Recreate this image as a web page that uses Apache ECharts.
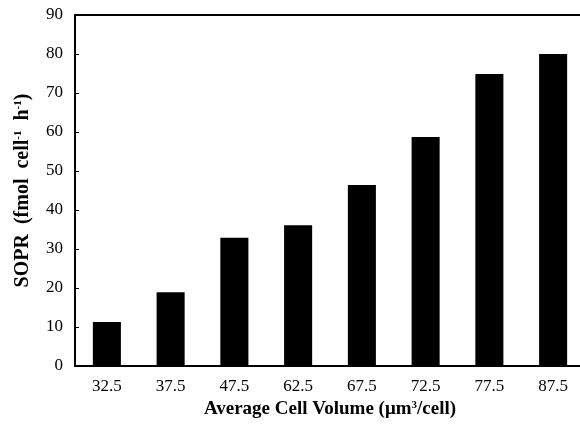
<!DOCTYPE html>
<html><head><meta charset="utf-8">
<script src="https://cdn.jsdelivr.net/npm/echarts@6/dist/echarts.min.js"></script>
<style>html,body{margin:0;padding:0;background:#fff;overflow:hidden;width:580px;height:437px}#c{width:590px;height:437px}</style>
</head><body><div id="c"></div>
<script>
const categories = ["32.5","37.5","47.5","62.5","67.5","72.5","77.5","87.5"];
const sopr = [11.3, 18.9, 32.9, 36.1, 46.4, 58.7, 74.9, 80.0];
const yTicks = [0,10,20,30,40,50,60,70,80,90];

const chart = echarts.init(document.getElementById('c'));
const font = 'Liberation Serif';
const supStyle = {fontFamily: font, fontSize: 11, fontWeight: 'bold', verticalAlign: 'top', padding: [0,0,8,0]};
chart.setOption({
  animation: false,
  backgroundColor: '#fff',
  grid: {left: 75, top: 15, width: 510, height: 351},
  xAxis: [{
    type: 'category', data: categories,
    axisLine: {lineStyle: {color: '#000', width: 2}},
    axisTick: {inside: true, length: 4, lineStyle: {color: '#000'}},
    axisLabel: {color: '#000', fontFamily: font, fontSize: 17, margin: 12},
    name: 'Average Cell Volume (μm{sup|3}/cell)',
    nameLocation: 'middle', nameGap: 34,
    nameTextStyle: {color: '#000', fontFamily: font, fontSize: 19, fontWeight: 'bold', rich: {sup: supStyle}}
  }, {
    type: 'category', data: categories, position: 'top',
    axisLine: {show: true, onZero: false, lineStyle: {color: '#000', width: 2}},
    axisTick: {show: false}, axisLabel: {show: false}
  }],
  yAxis: {
    type: 'value', min: 0, max: 90, interval: 10,
    splitLine: {show: false},
    axisLine: {show: true, lineStyle: {color: '#000', width: 2}},
    axisTick: {show: true, inside: true, length: 4, lineStyle: {color: '#000'}},
    axisLabel: {color: '#000', fontFamily: font, fontSize: 17, margin: 12,
      formatter: v => yTicks.includes(v) ? String(v) : ''},
    name: 'SOPR  (fmol  cell{sup|-1}  h{sup|-1})',
    nameLocation: 'middle', nameGap: 42, nameRotate: 90,
    nameTextStyle: {color: '#000', fontFamily: font, fontSize: 20, fontWeight: 'bold', rich: {sup: supStyle}}
  },
  series: [{
    type: 'bar', data: sopr, barWidth: '44%', xAxisIndex: 0,
    itemStyle: {color: '#000'}
  }]
});
</script></body></html>
